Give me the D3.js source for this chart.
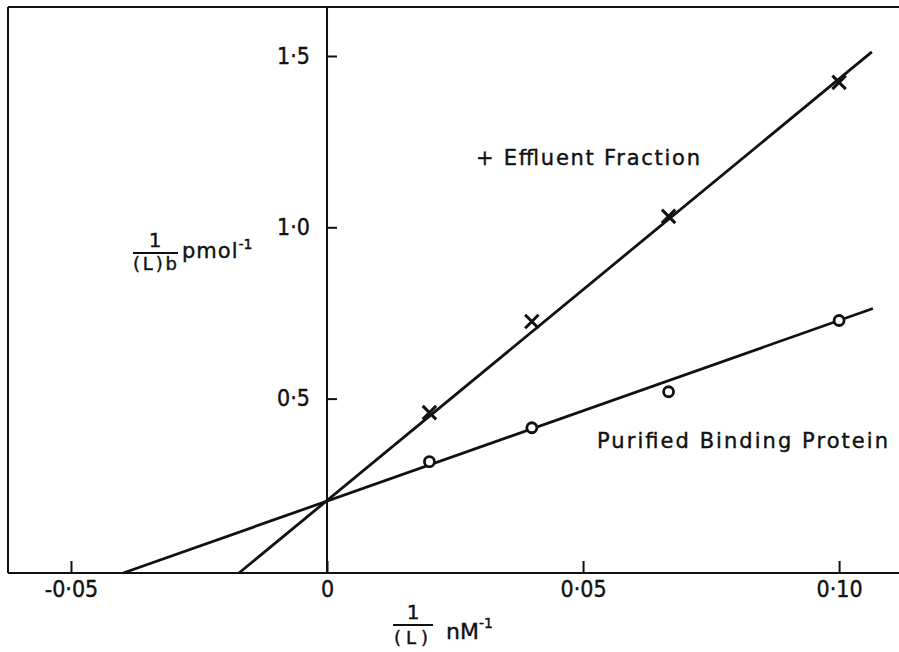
<!DOCTYPE html>
<html>
<head>
<meta charset="utf-8">
<script src="https://cdn.jsdelivr.net/npm/d3@7"></script>
<style>
  html, body { margin: 0; padding: 0; background: #fff; }
  svg { display: block; }
  text { font-family: "DejaVu Sans", "Liberation Sans", Arial, sans-serif; fill: #111; stroke: #111; stroke-width: 0.4px; }
  .tick text { font-family: "DejaVu Sans Condensed", "Liberation Sans Narrow", "DejaVu Sans", sans-serif; }
</style>
</head>
<body>
<svg id="chart" width="899" height="652"></svg>
<script>
// Double-reciprocal binding plot: 1/[L]b against 1/[L]
const xValues = [0.02, 0.04, 0.0667, 0.10];              // 1/[L], nM^-1
const effluentValues = [0.459, 0.725, 1.032, 1.423];     // + effluent fraction, pmol^-1
const purifiedValues = [0.316, 0.415, 0.520, 0.728];     // purified binding protein, pmol^-1

// Fitted lines, drawn between their two end points
const effluentFit = [[-0.0172, -0.009], [0.1064, 1.512]];
const purifiedFit = [[-0.0398, -0.009], [0.1066, 0.763]];

const xTicks = [-0.05, 0, 0.05, 0.10];
const xTickLabels = ["-0·05", "0", "0·05", "0·10"];
const yTicks = [0.5, 1.0, 1.5];
const yTickLabels = ["0·5", "1·0", "1·5"];

const svg = d3.select("#chart");
const frameLeft = 8, frameRight = 899, frameTop = 7, frameBottom = 573;

const x = d3.scaleLinear().domain([-0.0623, 0.1117]).range([frameLeft, frameRight]);
const y = d3.scaleLinear().domain([-0.009, 1.643]).range([frameBottom, frameTop]);

const ink = "#111";

// frame: left edge, top edge, bottom axis line and the vertical axis at x = 0
const frame = svg.append("g").attr("stroke", ink).attr("stroke-width", 2).attr("fill", "none");
frame.append("line").attr("x1", frameLeft).attr("x2", frameLeft).attr("y1", frameTop).attr("y2", frameBottom);
frame.append("line").attr("x1", frameLeft).attr("x2", frameRight).attr("y1", frameTop).attr("y2", frameTop);
frame.append("line").attr("x1", frameLeft).attr("x2", frameRight).attr("y1", frameBottom).attr("y2", frameBottom);
frame.append("line").attr("x1", x(0)).attr("x2", x(0)).attr("y1", frameTop).attr("y2", frameBottom);

// x axis: ticks point up into the plot
const xAxis = d3.axisBottom(x)
  .tickValues(xTicks)
  .tickSizeInner(-12).tickSizeOuter(0)
  .tickPadding(8)
  .tickFormat((d, i) => xTickLabels[i]);
const gx = svg.append("g").attr("transform", `translate(0,${frameBottom})`).call(xAxis);
gx.select(".domain").remove();
gx.selectAll(".tick line").attr("stroke", ink).attr("stroke-width", 2);
gx.selectAll(".tick text").attr("font-size", 23).attr("fill", ink);

// y axis: ticks to the right of the axis, labels on the left
const yAxis = d3.axisLeft(y)
  .tickValues(yTicks)
  .tickSizeInner(-10).tickSizeOuter(0)
  .tickPadding(17)
  .tickFormat((d, i) => yTickLabels[i]);
const gy = svg.append("g").attr("transform", `translate(${x(0)},0)`).call(yAxis);
gy.select(".domain").remove();
gy.selectAll(".tick line").attr("stroke", ink).attr("stroke-width", 2);
gy.selectAll(".tick text").attr("font-size", 23).attr("fill", ink);

// fitted lines
const line = d3.line().x(d => x(d[0])).y(d => y(d[1]));
svg.append("path").datum(effluentFit).attr("d", line)
  .attr("fill", "none").attr("stroke", ink).attr("stroke-width", 2.8);
svg.append("path").datum(purifiedFit).attr("d", line)
  .attr("fill", "none").attr("stroke", ink).attr("stroke-width", 2.8);

// effluent fraction points (crosses)
const cross = d3.symbol().type(d3.symbolX).size(120);
svg.append("g").selectAll("path")
  .data(xValues.map((v, i) => [v, effluentValues[i]]))
  .join("path")
  .attr("transform", d => `translate(${x(d[0])},${y(d[1])})`)
  .attr("d", cross)
  .attr("fill", "none").attr("stroke", ink).attr("stroke-width", 3);

// purified protein points (open circles)
svg.append("g").selectAll("circle")
  .data(xValues.map((v, i) => [v, purifiedValues[i]]))
  .join("circle")
  .attr("cx", d => x(d[0])).attr("cy", d => y(d[1]))
  .attr("r", 5)
  .attr("fill", "#fff").attr("stroke", ink).attr("stroke-width", 2.8);

// series labels
svg.append("text").attr("x", 476).attr("y", 165).attr("font-size", 21)
  .attr("textLength", 224).attr("lengthAdjust", "spacing")
  .text("+ Effluent Fraction");
svg.append("text").attr("x", 597).attr("y", 448).attr("font-size", 21)
  .attr("textLength", 291).attr("lengthAdjust", "spacing")
  .text("Purified Binding Protein");

// y axis title: 1 / (L)b  pmol^-1
const yt = svg.append("g");
yt.append("text").attr("x", 155).attr("y", 247).attr("text-anchor", "middle").attr("font-size", 20).text("1");
yt.append("line").attr("x1", 133).attr("x2", 178).attr("y1", 253).attr("y2", 253)
  .attr("stroke", ink).attr("stroke-width", 2);
yt.append("text").attr("x", 133).attr("y", 270).attr("font-size", 18)
  .attr("textLength", 44).attr("lengthAdjust", "spacing").text("(L)b");
const pm = yt.append("text").attr("x", 182).attr("y", 258).attr("font-size", 21)
  .attr("letter-spacing", 1);
pm.append("tspan").text("pmol");
pm.append("tspan").attr("dy", -9).attr("font-size", 14).attr("letter-spacing", 0).text("-1");

// x axis title: 1 / (L)  nM^-1
const xt = svg.append("g");
xt.append("text").attr("x", 413).attr("y", 619).attr("text-anchor", "middle").attr("font-size", 20).text("1");
xt.append("line").attr("x1", 393).attr("x2", 433).attr("y1", 625).attr("y2", 625)
  .attr("stroke", ink).attr("stroke-width", 2);
xt.append("text").attr("x", 394).attr("y", 644).attr("font-size", 18)
  .attr("textLength", 34).attr("lengthAdjust", "spacing").text("(L)");
const nm = xt.append("text").attr("x", 446).attr("y", 639).attr("font-size", 22);
nm.append("tspan").text("nM");
nm.append("tspan").attr("dy", -11).attr("font-size", 14).text("-1");
</script>
</body>
</html>
